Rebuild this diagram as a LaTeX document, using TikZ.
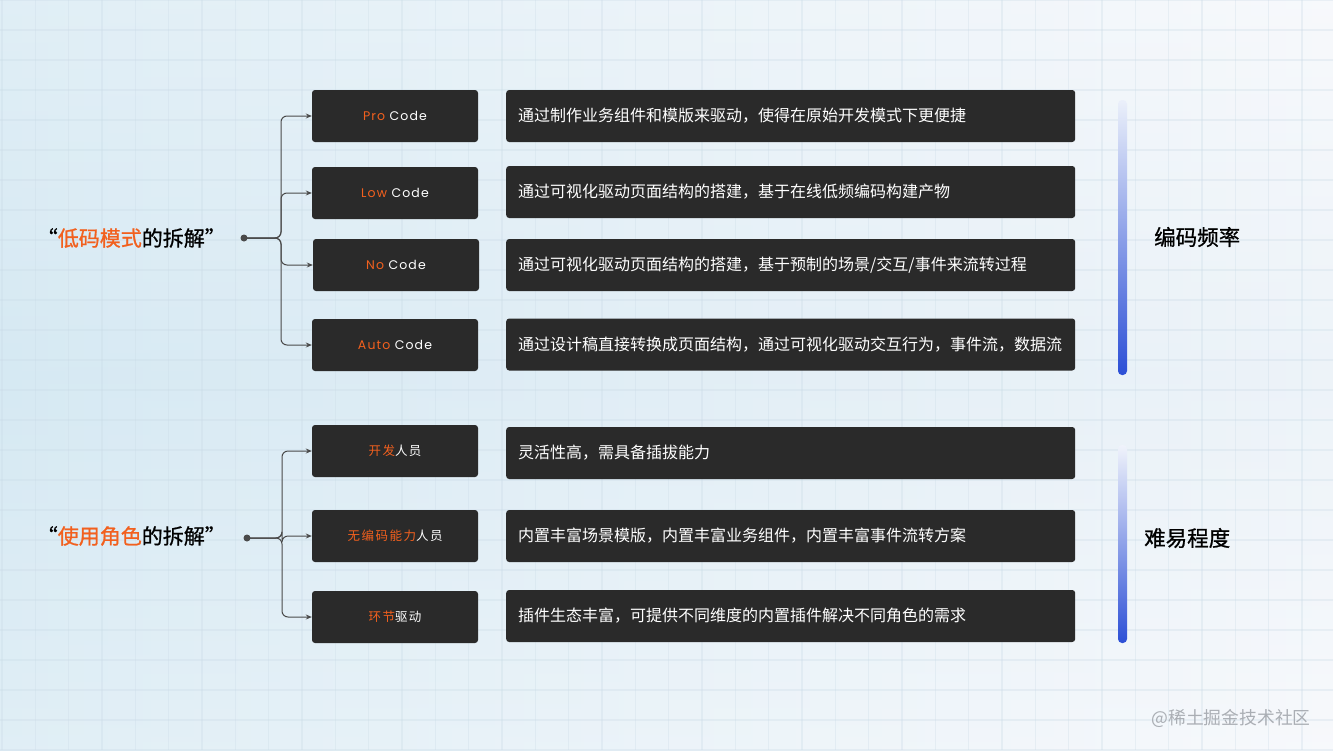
\documentclass[tikz,border=0pt]{standalone}
\usepackage{fontspec}
\setmainfont{Noto Sans CJK SC}
\newfontfamily\popsp[LetterSpace=9]{Poppins}
\newfontfamily\cjksp[LetterSpace=12]{Noto Sans CJK SC}
\newfontfamily\cjkmed[FakeBold=0.9]{Noto Sans CJK SC}
\usetikzlibrary{arrows.meta,calc}
\definecolor{org}{HTML}{F2601E}
\definecolor{boxc}{HTML}{2A2A2A}
\definecolor{linec}{HTML}{4A4A4A}
\definecolor{barblue}{HTML}{2C4FD6}
\definecolor{gridc}{HTML}{C9DAE6}
\tikzset{
  lbox/.style={fill=boxc, rounded corners=3pt, minimum width=166pt, minimum height=52pt, inner sep=0pt, text=white, font=\fontsize{12.5}{14}\selectfont},
  rbox/.style={fill=boxc, rounded corners=3pt, minimum height=52pt, text width=545pt, inner xsep=12pt, inner ysep=0pt, align=left, anchor=west, text=white, font=\fontsize{16}{19}\selectfont},
  arr/.style={draw=linec, line width=1pt, rounded corners=6pt, -{Stealth[length=6pt,width=5pt]}},
  dot/.style={circle, fill=linec, inner sep=0pt, minimum size=7pt},
  biglabel/.style={font=\cjkmed\fontsize{21}{25}\selectfont, text=black, inner sep=0pt},
  sidelabel/.style={font=\cjkmed\fontsize{21.5}{25}\selectfont, text=black, anchor=west, inner sep=0pt},
}
\begin{document}
\begin{tikzpicture}[x=1pt,y=-1pt]
\useasboundingbox (0,0) rectangle (1333,750);
% background
\shade[left color={rgb,255:red,214;green,233;blue,243}, right color={rgb,255:red,245;green,247;blue,251}] (0,0) rectangle (1333,750);
\shade[top color=white, bottom color=white, middle color={rgb,255:red,214;green,233;blue,243}, opacity=0.25] (0,0) rectangle (1333,750);
\foreach \i in {0,...,40} {\draw[gridc, line width=1.3pt, opacity=0.3] ({2+33.33*\i},0) -- ({2+33.33*\i},750);}
\foreach \j in {0,...,25} {\draw[gridc, line width=1.3pt, opacity=0.3] (0,{30*\j}) -- (1333,{30*\j});}

% gradient bars
\shade[top color={rgb,255:red,235;green,240;blue,250}, bottom color=barblue, rounded corners=4pt] (1118,100) rectangle (1127,375);
\shade[top color={rgb,255:red,240;green,243;blue,251}, bottom color=barblue, rounded corners=4pt] (1118,445) rectangle (1127,643);
\node[sidelabel] (s1) at (1154,237) {编码频率};
\node[sidelabel] (s2) at (1144,538) {难易程度};

% left labels
\node[biglabel, anchor=east] (l1) at (226,238) {“\textcolor{org}{低码模式}的拆解”};
\node[biglabel, anchor=east] (l2) at (226,536) {“\textcolor{org}{使用角色}的拆解”};
\node[dot] (d1) at (244,238) {};
\node[dot] (d2) at (247,538) {};
\coordinate (v1) at (281,238);
\coordinate (v2) at (282,538);

% left boxes
\node[lbox] (b1) at (395,116) {\popsp\textcolor{org}{Pro} Code};
\node[lbox] (b2) at (395,193) {\popsp\textcolor{org}{Low} Code};
\node[lbox] (b3) at (396,265) {\popsp\textcolor{org}{No} Code};
\node[lbox] (b4) at (395,345) {\popsp\textcolor{org}{Auto} Code};
\node[lbox] (b5) at (395,451) {\cjksp\textcolor{org}{开发}人员};
\node[lbox] (b6) at (395,536) {\cjksp\textcolor{org}{无编码能力}人员};
\node[lbox] (b7) at (395,617) {\cjksp\textcolor{org}{环节}驱动};

% right boxes
\node[rbox] (r1) at (506,116) {通过制作业务组件和模版来驱动，使得在原始开发模式下更便捷};
\node[rbox] (r2) at (506,192) {通过可视化驱动页面结构的搭建，基于在线低频编码构建产物};
\node[rbox] (r3) at (506,265) {通过可视化驱动页面结构的搭建，基于预制的场景/交互/事件来流转过程};
\node[rbox] (r4) at (506,344.5) {通过设计稿直接转换成页面结构，通过可视化驱动交互行为，事件流，数据流};
\node[rbox] (r5) at (506,453) {灵活性高，需具备插拔能力};
\node[rbox] (r6) at (506,536) {内置丰富场景模版，内置丰富业务组件，内置丰富事件流转方案};
\node[rbox] (r7) at (506,616) {插件生态丰富，可提供不同维度的内置插件解决不同角色的需求};

% connectors
\foreach \b in {b1,b2,b3,b4} {\draw[arr] (d1.center) -- (v1) |- (\b.west);}
\foreach \b in {b5,b6,b7} {\draw[arr] (d2.center) -- (v2) |- (\b.west);}

% watermark
\node[font=\fontsize{17.8}{20}\selectfont, text={rgb,255:red,170;green,174;blue,180}, inner sep=0pt] (wm) at (1231,718) {@稀土掘金技术社区};
\end{tikzpicture}
\end{document}
